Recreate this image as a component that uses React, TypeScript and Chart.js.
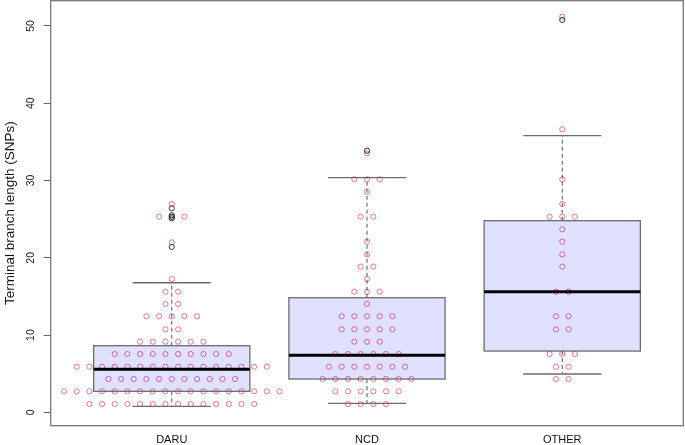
import { useEffect, useRef } from 'react';
import { Chart, registerables } from 'chart.js';

Chart.register(...registerables);

const categories = ['DARU', 'NCD', 'OTHER'];
const yTitle = 'Terminal branch length (SNPs)';
const yTickValues = [0, 10, 20, 30, 40, 50];

// beeswarm rows (value of each row and number of points in it)
const daruRowValues = [1.07, 2.72, 4.31, 5.9, 7.55, 9.14, 10.74, 12.43, 14.02, 15.61, 17.25, 22.0, 25.32, 26.96];
const daruRowCounts = [14, 18, 11, 16, 10, 6, 2, 5, 2, 2, 1, 1, 3, 1];
const ncdRowValues = [1.07, 2.72, 4.31, 5.9, 7.55, 9.14, 10.74, 12.43, 14.02, 15.61, 17.25, 18.85, 20.45, 22.08, 25.32, 28.55, 30.16, 33.52];
const ncdRowCounts = [4, 6, 8, 7, 6, 3, 5, 5, 1, 3, 1, 2, 1, 1, 2, 1, 3, 1];
const otherRowValues = [4.31, 5.9, 7.55, 10.74, 12.43, 15.61, 18.85, 20.45, 22.08, 23.69, 25.32, 26.96, 30.16, 36.63, 51.2];
const otherRowCounts = [2, 2, 3, 2, 2, 2, 1, 1, 1, 1, 3, 1, 1, 1, 1];

// boxplot statistics
const whiskerLow = [0.78, 1.16, 4.96];
const q1 = [2.72, 4.31, 7.93];
const medians = [5.57, 7.38, 15.61];
const q3 = [8.62, 14.83, 24.8];
const whiskerHigh = [16.77, 30.37, 35.8];
const daruOutliers = [21.4, 25.1, 25.3, 25.5, 26.4];
const ncdOutliers = [33.86];
const otherOutliers = [50.78];

const FONT = 'Liberation Sans, Arial, Helvetica, sans-serif';
const SWARM_STEP = 0.0649;
const BOX_HALF = 0.4;
const STAPLE_HALF = 0.2;

export default function App() {
  const ref = useRef<HTMLCanvasElement>(null);

  useEffect(() => {
    const canvas = ref.current;
    if (!canvas) return;

    const rows = [
      { values: daruRowValues, counts: daruRowCounts },
      { values: ncdRowValues, counts: ncdRowCounts },
      { values: otherRowValues, counts: otherRowCounts },
    ];
    const swarm: { x: number; y: number }[] = [];
    rows.forEach((g, gi) => {
      g.values.forEach((v, ri) => {
        const n = g.counts[ri];
        for (let i = 0; i < n; i++) {
          swarm.push({ x: gi + 1 + (i - (n - 1) / 2) * SWARM_STEP, y: v });
        }
      });
    });
    const outliers: { x: number; y: number }[] = [];
    [daruOutliers, ncdOutliers, otherOutliers].forEach((arr, gi) =>
      arr.forEach((v) => outliers.push({ x: gi + 1, y: v }))
    );

    const boxPlugin = {
      id: 'boxes',
      afterDatasetsDraw(chart: any) {
        const { ctx, chartArea } = chart;
        const x = chart.scales.x;
        const y = chart.scales.y;
        const line = (x1: number, y1: number, x2: number, y2: number) => {
          ctx.beginPath();
          ctx.moveTo(x1, y1);
          ctx.lineTo(x2, y2);
          ctx.stroke();
        };
        ctx.save();
        categories.forEach((_, i) => {
          const c = i + 1;
          const xc = x.getPixelForValue(c);
          const xl = x.getPixelForValue(c - BOX_HALF);
          const xr = x.getPixelForValue(c + BOX_HALF);
          const sl = x.getPixelForValue(c - STAPLE_HALF);
          const sr = x.getPixelForValue(c + STAPLE_HALF);
          const yLo = y.getPixelForValue(whiskerLow[i]);
          const yQ1 = y.getPixelForValue(q1[i]);
          const yMed = y.getPixelForValue(medians[i]);
          const yQ3 = y.getPixelForValue(q3[i]);
          const yHi = y.getPixelForValue(whiskerHigh[i]);
          // whiskers
          ctx.strokeStyle = '#555';
          ctx.lineWidth = 1;
          ctx.setLineDash([4, 3]);
          line(xc, yQ3, xc, yHi);
          line(xc, yQ1, xc, yLo);
          ctx.setLineDash([]);
          // staples
          ctx.strokeStyle = '#6b6b6b';
          ctx.lineWidth = 1.3;
          line(sl, yHi, sr, yHi);
          line(sl, yLo, sr, yLo);
          // box
          ctx.fillStyle = 'rgba(0,0,255,0.12)';
          ctx.fillRect(xl, yQ3, xr - xl, yQ1 - yQ3);
          ctx.strokeStyle = '#6b6b6b';
          ctx.lineWidth = 1.3;
          ctx.strokeRect(xl, yQ3, xr - xl, yQ1 - yQ3);
          // median
          ctx.strokeStyle = '#000';
          ctx.lineWidth = 3;
          line(xl, yMed, xr, yMed);
        });
        // y tick labels (rotated, R style)
        ctx.fillStyle = '#222';
        ctx.font = `10.5px ${FONT}`;
        yTickValues.forEach((v) => {
          const yp = y.getPixelForValue(v);
          ctx.save();
          ctx.translate(33.5, yp);
          ctx.rotate(-Math.PI / 2);
          ctx.textAlign = 'center';
          ctx.textBaseline = 'alphabetic';
          ctx.fillText(String(v), 0, 0);
          ctx.restore();
        });
        // frame
        ctx.strokeStyle = '#777';
        ctx.lineWidth = 1.3;
        ctx.strokeRect(chartArea.left, chartArea.top, chartArea.right - chartArea.left, chartArea.bottom - chartArea.top);
        ctx.restore();
      },
    };

    const chart = new Chart(canvas, {
      type: 'scatter',
      data: {
        datasets: [
          {
            label: 'outliers',
            data: outliers,
            pointRadius: 2.6,
            pointBorderWidth: 1,
            pointBorderColor: '#333',
            pointBackgroundColor: 'rgba(0,0,0,0)',
            clip: false,
          },
          {
            label: 'points',
            data: swarm,
            pointRadius: 2.6,
            pointBorderWidth: 1,
            pointBorderColor: 'rgba(230,60,100,0.7)',
            pointBackgroundColor: 'rgba(0,0,0,0)',
            clip: false,
          },
        ],
      },
      options: {
        responsive: false,
        animation: false,
        layout: { autoPadding: false, padding: { top: 0.7, right: 1.7, left: 0, bottom: 0 } },
        plugins: { legend: { display: false }, tooltip: { enabled: false } },
        scales: {
          x: {
            type: 'linear',
            min: 0.38,
            max: 3.62,
            afterBuildTicks: (s: any) => {
              s.ticks = categories.map((_, i) => ({ value: i + 1 }));
            },
            afterFit: (s: any) => {
              s.height = 19.3;
              s.paddingLeft = 0;
              s.paddingRight = 0;
            },
            ticks: {
              callback: (v: any) => categories[Math.round(v) - 1] ?? '',
              font: { family: FONT, size: 11 },
              color: '#111',
              padding: 8,
              maxRotation: 0,
              autoSkip: false,
            },
            grid: { display: false, drawTicks: false },
            border: { display: false },
          },
          y: {
            type: 'linear',
            min: -1.73,
            max: 53.27,
            afterBuildTicks: (s: any) => {
              s.ticks = yTickValues.map((v) => ({ value: v }));
            },
            afterFit: (s: any) => {
              s.width = 50.7;
              s.paddingTop = 0;
              s.paddingBottom = 0;
            },
            ticks: { display: false },
            grid: { display: true, drawOnChartArea: false, drawTicks: true, tickLength: 7, color: '#666', lineWidth: 1 },
            border: { display: false },
            title: {
              display: true,
              text: yTitle,
              font: { family: FONT, size: 13.5 },
              color: '#111',
              padding: { top: 2, bottom: 0 },
            },
          },
        },
      },
      plugins: [boxPlugin],
    });

    return () => chart.destroy();
  }, []);

  return (
    <div style={{ position: 'absolute', left: 0, top: 0, width: 685, height: 445 }}>
      <canvas ref={ref} width={685} height={445} style={{ display: 'block' }} />
    </div>
  );
}
